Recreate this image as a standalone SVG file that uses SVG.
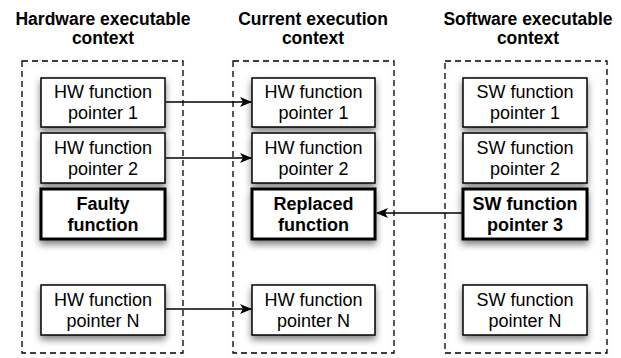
<svg xmlns="http://www.w3.org/2000/svg" width="621" height="358" viewBox="0 0 621 358">
<style>
text{font-family:"Liberation Sans",Arial,sans-serif;font-size:18px;fill:#000;text-anchor:middle}
.t{font-weight:bold;font-size:17.5px}
.b{font-weight:bold}
.c{fill:none;stroke:#000;stroke-width:1.3;stroke-dasharray:6 4}
.n{fill:#fff;stroke:#000;stroke-width:1.5}
.k{fill:#fff;stroke:#000;stroke-width:3}
.e{stroke:#000;stroke-width:1.3;fill:none}
</style>
<defs>
<filter id="sh" x="-20%" y="-20%" width="140%" height="170%">
<feDropShadow dx="0" dy="4" stdDeviation="3.5" flood-color="#000" flood-opacity="0.5"/>
</filter>
<filter id="csh" x="-10%" y="-10%" width="120%" height="120%">
<feDropShadow dx="0" dy="2" stdDeviation="3" flood-color="#000" flood-opacity="0.12"/>
</filter>
<marker id="ar" viewBox="0 0 12 10" refX="11" refY="5" markerWidth="12" markerHeight="10" markerUnits="userSpaceOnUse" orient="auto">
<path d="M0,0 L12,5 L0,10 L3,5 Z" fill="#000"/>
</marker>
</defs>

<g id="titles">
<text class="t" x="103" y="25">Hardware executable</text>
<text class="t" x="103" y="44">context</text>
<text class="t" x="313" y="25">Current execution</text>
<text class="t" x="313" y="44">context</text>
<text class="t" x="528" y="25">Software executable</text>
<text class="t" x="528" y="44">context</text>
</g>

<g id="hw-context"><rect class="c" x="22" y="61" width="161" height="292" filter="url(#csh)"/></g>
<g id="cur-context"><rect class="c" x="233" y="61" width="161" height="292" filter="url(#csh)"/></g>
<g id="sw-context"><rect class="c" x="445" y="61" width="162" height="292" filter="url(#csh)"/></g>

<g id="hw1"><rect class="n" x="41" y="78" width="124" height="49" filter="url(#sh)"/><text x="103" y="98">HW function</text><text x="103" y="119">pointer 1</text></g>
<g id="hw2"><rect class="n" x="41" y="133" width="124" height="50" filter="url(#sh)"/><text x="103" y="154">HW function</text><text x="103" y="175">pointer 2</text></g>
<g id="faulty"><rect class="k" x="41" y="189" width="124" height="50" filter="url(#sh)"/><text class="b" x="103" y="210">Faulty</text><text class="b" x="103" y="231">function</text></g>
<g id="hwN"><rect class="n" x="41" y="285" width="124" height="50" filter="url(#sh)"/><text x="103" y="306">HW function</text><text x="103" y="327">pointer N</text></g>

<g id="cur1"><rect class="n" x="252" y="78" width="123" height="49" filter="url(#sh)"/><text x="313.5" y="98">HW function</text><text x="313.5" y="119">pointer 1</text></g>
<g id="cur2"><rect class="n" x="252" y="133" width="123" height="50" filter="url(#sh)"/><text x="313.5" y="154">HW function</text><text x="313.5" y="175">pointer 2</text></g>
<g id="replaced"><rect class="k" x="252" y="189" width="123" height="50" filter="url(#sh)"/><text class="b" x="313.5" y="210">Replaced</text><text class="b" x="313.5" y="231">function</text></g>
<g id="curN"><rect class="n" x="252" y="285" width="123" height="50" filter="url(#sh)"/><text x="313.5" y="306">HW function</text><text x="313.5" y="327">pointer N</text></g>

<g id="sw1"><rect class="n" x="463" y="78" width="124" height="49" filter="url(#sh)"/><text x="525" y="98">SW function</text><text x="525" y="119">pointer 1</text></g>
<g id="sw2"><rect class="n" x="463" y="133" width="124" height="50" filter="url(#sh)"/><text x="525" y="154">SW function</text><text x="525" y="175">pointer 2</text></g>
<g id="sw3"><rect class="k" x="463" y="189" width="124" height="50" filter="url(#sh)"/><text class="b" x="525" y="210">SW function</text><text class="b" x="525" y="231">pointer 3</text></g>
<g id="swN"><rect class="n" x="463" y="285" width="124" height="50" filter="url(#sh)"/><text x="525" y="306">SW function</text><text x="525" y="327">pointer N</text></g>

<g id="connectors">
<line class="e" x1="166" y1="102" x2="251" y2="102" marker-end="url(#ar)"/>
<line class="e" x1="166" y1="158" x2="251" y2="158" marker-end="url(#ar)"/>
<line class="e" x1="462" y1="213" x2="377" y2="213" marker-end="url(#ar)"/>
<line class="e" x1="166" y1="309" x2="251" y2="309" marker-end="url(#ar)"/>
</g>
</svg>
